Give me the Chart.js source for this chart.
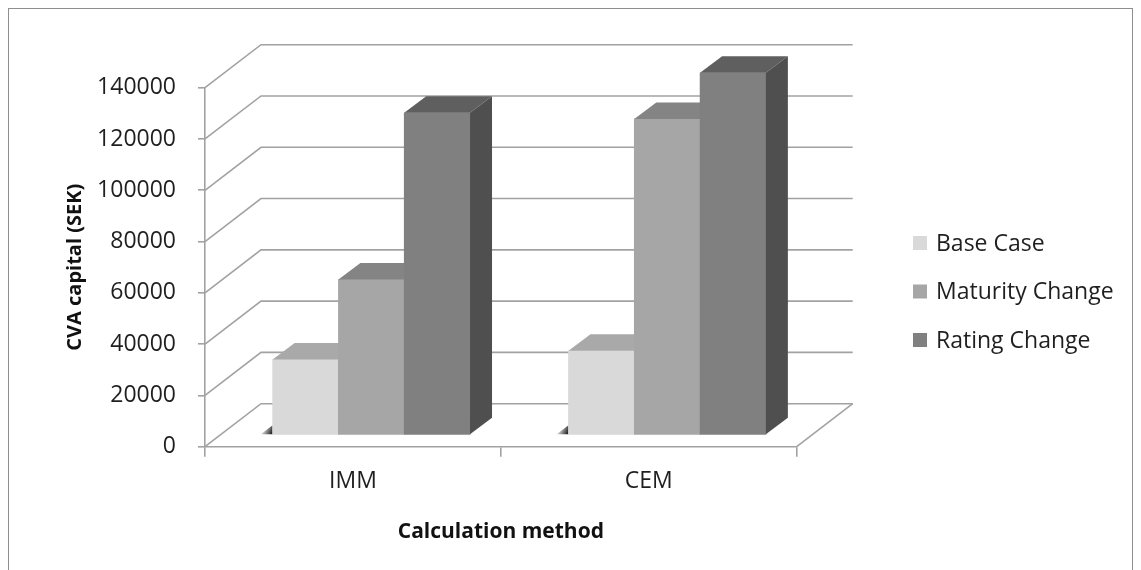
<!DOCTYPE html>
<html>
<head>
<meta charset="utf-8">
<title>CVA capital by calculation method</title>
<script src="https://cdn.jsdelivr.net/npm/chart.js@4/dist/chart.umd.min.js"></script>
<style>
  html, body { margin: 0; padding: 0; background: #ffffff; }
  #wrap { position: relative; width: 1141px; height: 570px; }
  canvas { display: block; }
</style>
</head>
<body>
<div id="wrap"><canvas id="chart" width="1141" height="570"></canvas></div>
<script>
// ---- data ----
const categories = ['IMM', 'CEM'];
const seriesNames = ['Base Case', 'Maturity Change', 'Rating Change'];
const baseCase = [29200, 32600];
const maturityChange = [60400, 123000];
const ratingChange = [125400, 141000];
const valueTicks = [0, 20000, 40000, 60000, 80000, 100000, 120000, 140000];

// ---- geometry of the 3D box (front plane = chart area) ----
const PLOT = { left: 205, right: 796.7, top: 87.7, bottom: 446.7 };
const W = 1141, H = 570;
const DEPTH = { dx: 56, dy: 43 };         // wall / floor depth
const BAR_LIFT = { dx: 18.4, dy: 12.4 };  // where the bar fronts sit inside the box
const BAR_DEPTH = { dx: 22, dy: 16.5 };   // thickness of each bar
const BAR_WIDTH = 65.8;
const GRID = '#a2a2a2';
const FONT = '"Open Sans", "Liberation Sans", sans-serif';

const faces = [
  { front: '#d9d9d9', top: '#a9a9a9', side: '#9c9c9c' },
  { front: '#a6a6a6', top: '#848484', side: '#6f6f6f' },
  { front: '#808080', top: '#5f5f5f', side: '#4f4f4f' }
];

const vMax = valueTicks[valueTicks.length - 1];
const vMin = valueTicks[0];
const unitsPerPx = (vMax - vMin) / (PLOT.bottom - PLOT.top);
const barYMin = vMin - BAR_LIFT.dy * unitsPerPx;
const catWidth = (PLOT.right - PLOT.left) / categories.length;
const barXMin = -0.5 - BAR_LIFT.dx / catWidth;

const seriesValues = [baseCase, maturityChange, ratingChange];
const datasets = seriesValues.map((vals, i) => ({
  label: seriesNames[i],
  data: vals.map((v, j) => ({ x: j, y: v })),
  backgroundColor: faces[i].front,
  borderWidth: 0,
  xAxisID: 'xb',
  yAxisID: 'yb',
  barThickness: BAR_WIDTH,
  clip: false
}));

// walls, floor, 3D bar faces and legend
const box3d = {
  id: 'box3d',
  beforeDraw(chart) {
    const ctx = chart.ctx;
    ctx.save();
    ctx.strokeStyle = '#8e8e8e';
    ctx.lineWidth = 1;
    ctx.strokeRect(8.5, 8.5, 1124, H + 20);
    ctx.restore();
  },
  beforeDatasetsDraw(chart) {
    const ctx = chart.ctx;
    const ys = chart.scales.y;
    const { left, right } = chart.chartArea;
    ctx.save();
    ctx.strokeStyle = GRID;
    ctx.lineWidth = 1.6;
    valueTicks.forEach(v => {
      const py = ys.getPixelForValue(v);
      ctx.beginPath();
      ctx.moveTo(left, py);
      ctx.lineTo(left + DEPTH.dx, py - DEPTH.dy);
      ctx.lineTo(right + DEPTH.dx, py - DEPTH.dy);
      ctx.stroke();
    });
    const y0 = ys.getPixelForValue(vMin);
    ctx.beginPath();
    ctx.moveTo(right, y0);
    ctx.lineTo(right + DEPTH.dx, y0 - DEPTH.dy);
    ctx.stroke();
    ctx.restore();
  },
  // bars are painted back-to-front in afterDatasetsDraw
  beforeDatasetDraw() { return false; },
  afterDatasetsDraw(chart) {
    const ctx = chart.ctx;
    ctx.save();
    chart.data.datasets.forEach((ds, d) => {
      const meta = chart.getDatasetMeta(d);
      meta.data.forEach(bar => {
        const { x, y, base, width } = bar.getProps(['x', 'y', 'base', 'width'], true);
        const l = x - width / 2, r = x + width / 2;
        const ddx = BAR_DEPTH.dx, ddy = BAR_DEPTH.dy;
        if (d === 0) {
          // small contact shadow at the front-left foot of each group
          const g = ctx.createLinearGradient(l, base, l - 11, base - 5);
          g.addColorStop(0, 'rgba(0,0,0,0.95)');
          g.addColorStop(1, 'rgba(0,0,0,0)');
          ctx.fillStyle = g;
          ctx.beginPath();
          ctx.moveTo(l - 12, base);
          ctx.lineTo(l, base);
          ctx.lineTo(l, base - 9);
          ctx.closePath();
          ctx.fill();
        }
        bar.draw(ctx);
        ctx.fillStyle = faces[d].top;
        ctx.beginPath();
        ctx.moveTo(l, y);
        ctx.lineTo(r, y);
        ctx.lineTo(r + ddx, y - ddy);
        ctx.lineTo(l + ddx, y - ddy);
        ctx.closePath();
        ctx.fill();
        ctx.fillStyle = faces[d].side;
        ctx.beginPath();
        ctx.moveTo(r, y);
        ctx.lineTo(r + ddx, y - ddy);
        ctx.lineTo(r + ddx, base - ddy);
        ctx.lineTo(r, base);
        ctx.closePath();
        ctx.fill();
      });
    });
    ctx.restore();
  },
  afterDraw(chart) {
    const ctx = chart.ctx;
    ctx.save();
    ctx.font = '23px ' + FONT;
    ctx.textBaseline = 'middle';
    ctx.textAlign = 'left';
    chart.data.datasets.forEach((ds, i) => {
      const cy = 243 + i * 48.5;
      ctx.fillStyle = ds.backgroundColor;
      ctx.fillRect(913, cy - 7, 14, 14);
      ctx.fillStyle = '#1f1f1f';
      ctx.fillText(ds.label, 936, cy + 1);
    });
    ctx.restore();
  }
};

function build() {
  new Chart(document.getElementById('chart'), {
    type: 'bar',
    data: { labels: categories, datasets },
    options: {
      responsive: false,
      animation: false,
      devicePixelRatio: 1,
      layout: {
        padding: { left: 59, top: PLOT.top, right: W - PLOT.right, bottom: 21.7 }
      },
      plugins: { legend: { display: false }, tooltip: { enabled: false } },
      scales: {
        x: {
          type: 'category',
          position: 'bottom',
          offset: true,
          grid: { offset: true, drawOnChartArea: false, drawTicks: true, tickLength: 10, color: GRID, lineWidth: 1.6 },
          border: { display: true, color: GRID, width: 1.6 },
          ticks: { font: { family: FONT, size: 23 }, color: '#1f1f1f', padding: 11, maxRotation: 0 },
          title: { display: true, text: 'Calculation method', font: { family: FONT, size: 21, weight: 'bold' }, color: '#111', padding: { top: 4, bottom: 4 } },
          afterFit(s) { s.height = (H - 21.7) - PLOT.bottom; }
        },
        y: {
          type: 'linear',
          position: 'left',
          min: vMin,
          max: vMax,
          afterBuildTicks(s) { s.ticks = valueTicks.map(v => ({ value: v })); },
          grid: { drawOnChartArea: false, drawTicks: true, tickLength: 7, color: GRID, lineWidth: 1.6 },
          border: { display: true, color: GRID, width: 1.6 },
          ticks: { font: { family: FONT, size: 23 }, color: '#1f1f1f', padding: 22, callback: v => String(v) },
          title: { display: true, text: 'CVA capital (SEK)', font: { family: FONT, size: 20, weight: 'bold' }, color: '#111', padding: { top: 4, bottom: 4 } },
          afterFit(s) { s.width = PLOT.left - 59; }
        },
        xb: {
          type: 'linear',
          display: false,
          offset: false,
          min: barXMin,
          max: barXMin + categories.length
        },
        yb: {
          type: 'linear',
          display: false,
          min: barYMin,
          max: barYMin + (vMax - vMin)
        }
      }
    },
    plugins: [box3d]
  });
}

const fontLoads = [
  '23px "Open Sans"', 'bold 21px "Open Sans"', 'bold 20px "Open Sans"'
].map(f => document.fonts.load(f).catch(() => null));
Promise.all(fontLoads).then(build, build);
</script>
</body>
</html>
